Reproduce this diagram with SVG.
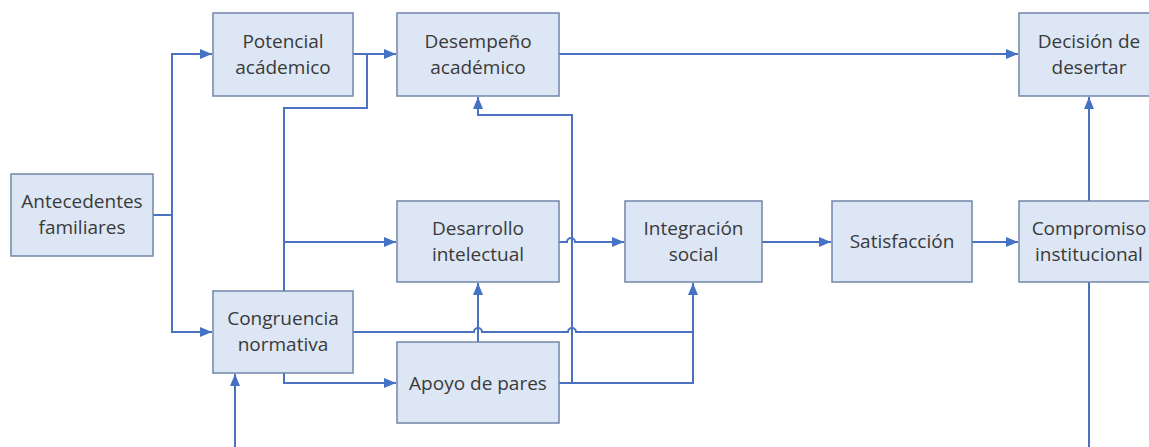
<svg xmlns="http://www.w3.org/2000/svg" width="1149" height="447" viewBox="0 0 1149 447">
<defs>
<marker id="arr" markerUnits="userSpaceOnUse" markerWidth="13" markerHeight="11" refX="12" refY="5" orient="auto">
<path d="M0,0 L12,5 L0,10 z" fill="#4472c4"/>
</marker>
<style>
.box{fill:#dce6f4;stroke:#7186aa;stroke-width:1.5}
.t{font-family:"Open Sans","Noto Sans",sans-serif;font-size:19px;fill:#3a3a3a;text-anchor:middle}
.c{fill:none;stroke:#4a72c0;stroke-width:2}
.a{marker-end:url(#arr)}
</style>
</defs>
<rect width="1149" height="447" fill="#ffffff"/>
<g id="connectors">
<path class="c a" d="M153,215 H172 V54 H212"/>
<path class="c a" d="M172,215 V332 H212"/>
<path class="c a" d="M353,54 H396"/>
<path class="c" d="M284,291 V108 H367 V54"/>
<path class="c a" d="M284,242 H396"/>
<path class="c a" d="M559,54 H1018"/>
<path class="c a" d="M559,242 H567 A4,4 0 0 1 575,242 H624"/>
<path class="c a" d="M762,242 H831"/>
<path class="c a" d="M972,242 H1018"/>
<path class="c a" d="M1089,201 V97"/>
<path class="c" d="M353,332 H474 A4,4 0 0 1 482,332 H568 A4,4 0 0 1 576,332 H693"/>
<path class="c a" d="M559,383 H693 V283"/>
<path class="c a" d="M572,383 V115 H478 V97"/>
<path class="c a" d="M478,342 V283"/>
<path class="c a" d="M284,373 V383 H396"/>
<path class="c a" d="M1089,282 V470 H235 V374"/>
</g>
<g id="potencial"><rect class="box" x="213" y="13" width="140" height="83"/><text class="t" x="283" y="48">Potencial</text><text class="t" x="283" y="74">acádemico</text></g>
<g id="desempeno"><rect class="box" x="397" y="13" width="162" height="83"/><text class="t" x="478" y="48">Desempeño</text><text class="t" x="478" y="74">académico</text></g>
<g id="decision"><rect class="box" x="1019" y="13" width="140" height="83"/><text class="t" x="1089" y="48">Decisión de</text><text class="t" x="1089" y="74">desertar</text></g>
<g id="antecedentes"><rect class="box" x="11" y="174" width="142" height="82"/><text class="t" x="82" y="208">Antecedentes</text><text class="t" x="82" y="234">familiares</text></g>
<g id="desarrollo"><rect class="box" x="397" y="201" width="162" height="81"/><text class="t" x="478" y="235">Desarrollo</text><text class="t" x="478" y="261">intelectual</text></g>
<g id="integracion"><rect class="box" x="625" y="201" width="137" height="81"/><text class="t" x="693.5" y="235">Integración</text><text class="t" x="693.5" y="261">social</text></g>
<g id="satisfaccion"><rect class="box" x="832" y="201" width="140" height="81"/><text class="t" x="902" y="248">Satisfacción</text></g>
<g id="compromiso"><rect class="box" x="1019" y="201" width="140" height="81"/><text class="t" x="1089" y="235">Compromiso</text><text class="t" x="1089" y="261">institucional</text></g>
<g id="congruencia"><rect class="box" x="213" y="291" width="140" height="82"/><text class="t" x="283" y="325">Congruencia</text><text class="t" x="283" y="351">normativa</text></g>
<g id="apoyo"><rect class="box" x="397" y="342" width="162" height="81"/><text class="t" x="478" y="390">Apoyo de pares</text></g>
</svg>
